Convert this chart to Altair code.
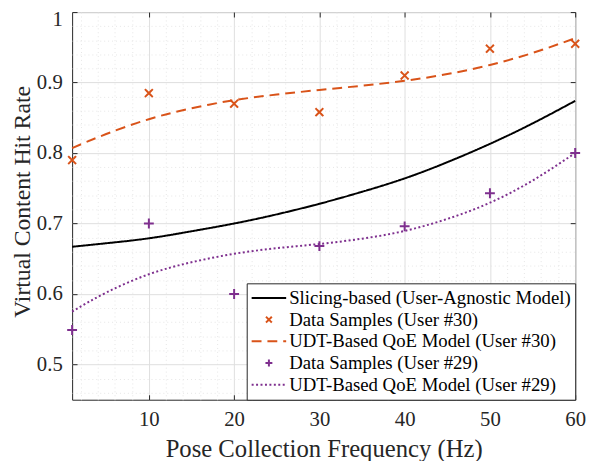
import altair as alt
import pandas as pd

# ---------------- data ----------------
series_names = [
    "Slicing-based (User-Agnostic Model)",
    "Data Samples (User #30)",
    "UDT-Based QoE Model (User #30)",
    "Data Samples (User #29)",
    "UDT-Based QoE Model (User #29)",
]
series_colors = ["#000000", "#D95319", "#D95319", "#7E2F8E", "#7E2F8E"]
series_shapes = ["stroke",
                 "M-0.17,-0.17L0.17,0.17M-0.17,0.17L0.17,-0.17",
                 "stroke",
                 "M0,-0.2L0,0.2M-0.2,0L0.2,0",
                 "stroke"]
series_dashes = [[1, 0], [1, 0], [10, 6], [1, 0], [2, 2.5]]

x_fit = [1, 5, 10, 15, 20, 25, 30, 35, 40, 45, 50, 55, 60]
slicing_fit = [0.667, 0.672, 0.679, 0.689, 0.700, 0.713, 0.728, 0.745, 0.764, 0.787, 0.813, 0.842, 0.874]
user30_fit = [0.807, 0.827, 0.848, 0.8635, 0.875, 0.883, 0.8895, 0.8955, 0.9025, 0.912, 0.925, 0.942, 0.963]
user29_fit = [0.575, 0.602, 0.628, 0.645, 0.657, 0.665, 0.671, 0.6785, 0.6895, 0.7065, 0.7295, 0.761, 0.800]

x_samples = [1, 10, 20, 30, 40, 50, 60]
user30_samples = [0.790, 0.885, 0.870, 0.858, 0.910, 0.948, 0.955]
user29_samples = [0.549, 0.700, 0.600, 0.668, 0.696, 0.743, 0.800]

x_major = [10, 20, 30, 40, 50, 60]
y_major = [0.5, 0.6, 0.7, 0.8, 0.9, 1.0]
x_minor = [2, 4, 6, 8, 10, 12, 14, 16, 18, 20, 22, 24, 26, 28, 30, 32, 34, 36, 38, 40,
           42, 44, 46, 48, 50, 52, 54, 56, 58, 60]
y_minor = [0.46, 0.48, 0.5, 0.52, 0.54, 0.56, 0.58, 0.6, 0.62, 0.64, 0.66, 0.68, 0.7,
           0.72, 0.74, 0.76, 0.78, 0.8, 0.82, 0.84, 0.86, 0.88, 0.9, 0.92, 0.94, 0.96,
           0.98, 1.0]

def fit_frame(vals, name):
    return pd.DataFrame({"x": x_fit, "y": vals, "series": [name] * len(x_fit)})

def samp_frame(vals, name):
    return pd.DataFrame({"x": x_samples, "y": vals, "series": [name] * len(x_samples)})

df_slicing = fit_frame(slicing_fit, series_names[0])
df_fit30 = fit_frame(user30_fit, series_names[2])
df_fit29 = fit_frame(user29_fit, series_names[4])
df_s30 = samp_frame(user30_samples, series_names[1])
df_s29 = samp_frame(user29_samples, series_names[3])

# ---------------- styles ----------------
FONT = "Liberation Serif"
TXT = "#262626"
x_scale = alt.Scale(domain=[1, 60], nice=False, zero=False)
y_scale = alt.Scale(domain=[0.45, 1.0], nice=False, zero=False)
color_scale = alt.Scale(domain=series_names, range=series_colors)
shape_scale = alt.Scale(domain=series_names, range=series_shapes)
dash_scale = alt.Scale(domain=series_names, range=series_dashes)

x_major_test = "datum.value % 10 === 0"
y_major_test = "abs(datum.value * 10 - round(datum.value * 10)) < 1e-6"

x_axis = alt.Axis(
    orient="bottom", values=x_minor,
    labelExpr=f"{x_major_test} ? format(datum.value, 'd') : ''",
    labelOverlap=False, labelFlush=False, labelFont=FONT, labelFontSize=21,
    labelColor=TXT, labelPadding=14,
    grid=True, gridWidth=1,
    gridColor={"condition": {"test": x_major_test, "value": "#dedede"}, "value": "#e6e6e6"},
    gridDash={"condition": {"test": x_major_test, "value": []}, "value": [1, 3]},
    ticks=True, tickSize={"expr": "-5"}, tickWidth=1,
    tickColor={"condition": {"test": x_major_test, "value": TXT}, "value": "transparent"},
    domain=False,
    title="Pose Collection Frequency (Hz)", titleFont=FONT, titleFontSize=25,
    titleFontWeight="normal", titleColor=TXT, titleBaseline="alphabetic",
    titleX=255, titleY=58,
)
y_axis = alt.Axis(
    orient="left", values=y_minor,
    labelExpr=f"{y_major_test} ? format(datum.value, '~g') : ''",
    labelOverlap=False, labelFlush=True, labelFlushOffset=3, labelFont=FONT, labelFontSize=21,
    labelColor=TXT, labelPadding=15,
    grid=True, gridWidth=1,
    gridColor={"condition": {"test": y_major_test, "value": "#dedede"}, "value": "#e6e6e6"},
    gridDash={"condition": {"test": y_major_test, "value": []}, "value": [1, 3]},
    ticks=True, tickSize={"expr": "-5"}, tickWidth=1,
    tickColor={"condition": {"test": y_major_test, "value": TXT}, "value": "transparent"},
    domain=False,
    title="Virtual Content Hit Rate", titleFont=FONT, titleFontSize=24,
    titleFontWeight="normal", titleColor=TXT, titleBaseline="alphabetic",
    titleX=-43, titleY=192, titleAngle=270,
)
x_axis_top = alt.Axis(orient="top", values=x_major, labels=False, title=None, grid=False,
                      domain=False, ticks=True, tickSize={"expr": "-5"}, tickColor=TXT, tickWidth=1)
y_axis_right = alt.Axis(orient="right", values=y_major, labels=False, title=None, grid=False,
                        domain=False, ticks=True, tickSize={"expr": "-5"}, tickColor=TXT, tickWidth=1)

legend = alt.Legend(
    title=None, orient="bottom-right", offset=0, padding=4,
    strokeColor=TXT, fillColor="white", cornerRadius=0,
    labelFont=FONT, labelFontSize=19, labelColor="#000000", labelOffset=2,
    labelLimit=0,
    symbolSize=1225, symbolStrokeWidth=2, clipHeight=21.6, rowPadding=0,
)

def line_layer(df, color, dash, xax=None, yax=None):
    return alt.Chart(df).mark_line(color=color, strokeWidth=2, strokeDash=dash,
                                   interpolate="natural").encode(
        x=alt.X("x:Q", scale=x_scale, axis=xax),
        y=alt.Y("y:Q", scale=y_scale, axis=yax),
        detail="series:N",
    )

def point_layer(df, size, with_dash):
    enc = dict(
        x=alt.X("x:Q", scale=x_scale, axis=None),
        y=alt.Y("y:Q", scale=y_scale, axis=None),
        color=alt.Color("series:N", scale=color_scale, legend=legend),
        shape=alt.Shape("series:N", scale=shape_scale, legend=legend),
    )
    if with_dash:
        enc["strokeDash"] = alt.StrokeDash("series:N", scale=dash_scale, legend=legend)
    return alt.Chart(df).mark_point(filled=False, size=size, strokeWidth=2, opacity=1).encode(**enc)

l_slicing = line_layer(df_slicing, series_colors[0], [1, 0], x_axis, y_axis)
l_fit30 = line_layer(df_fit30, series_colors[2], [10, 6], x_axis_top, y_axis_right)
l_fit29 = line_layer(df_fit29, series_colors[4], [2, 2.5])
p30 = point_layer(df_s30, 2215, True)
p29 = point_layer(df_s29, 2500, False)

chart = alt.layer(l_slicing, l_fit30, l_fit29, p30, p29).resolve_axis(
    x="independent", y="independent"
).properties(
    width=510, height=393,
    autosize=alt.AutoSizeParams(type="none"),
    padding={"left": 65, "top": 1, "right": 14, "bottom": 59},
    background="white",
).configure_view(stroke=TXT, strokeWidth=1).configure_axis(
    labelFont=FONT, labelFontSize=21, labelColor=TXT
)

chart.save("out.html", embed_options={"renderer": "svg", "actions": False})
